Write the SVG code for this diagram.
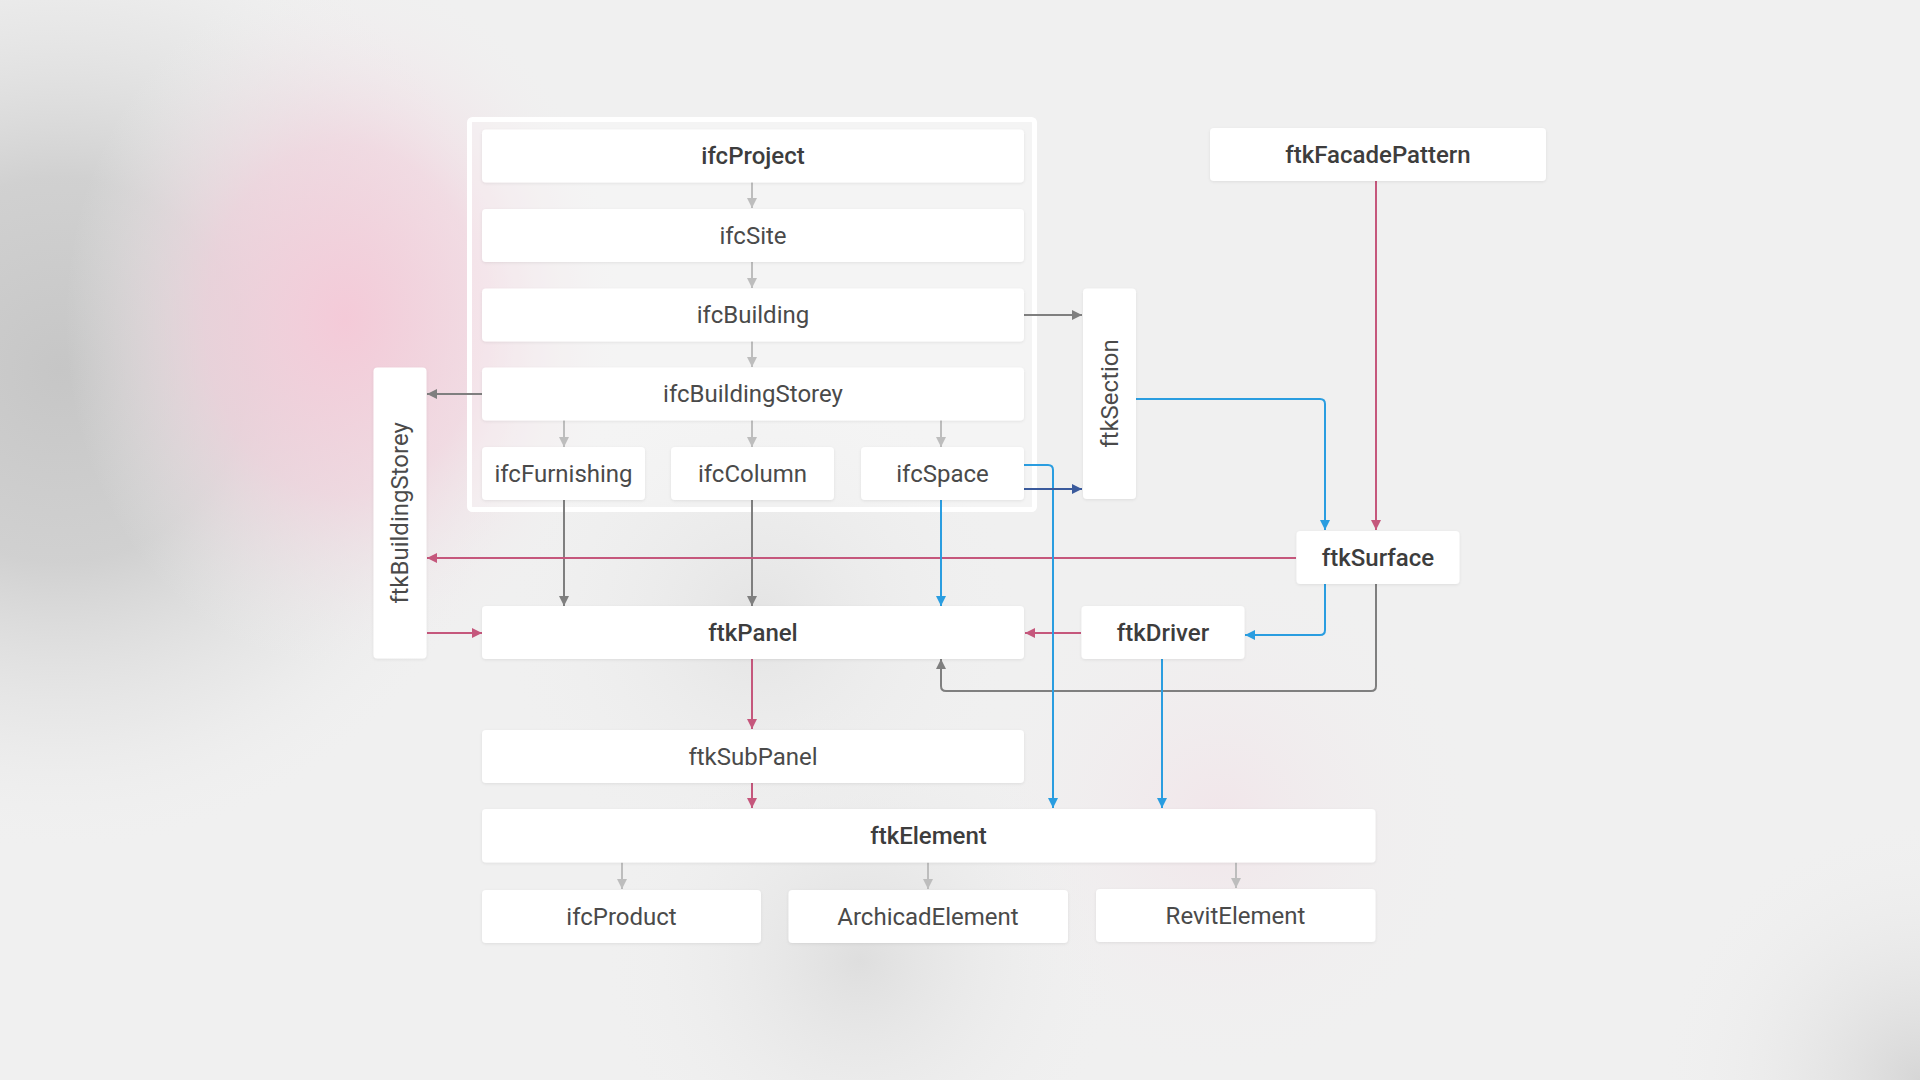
<svg xmlns="http://www.w3.org/2000/svg" width="1920" height="1080" viewBox="0 0 1920 1080">
<defs>
<radialGradient id="gGrayL" cx="0" cy="0" r="1" gradientUnits="userSpaceOnUse" gradientTransform="translate(60,370) scale(470,480)">
<stop offset="0" stop-color="#c6c6c6" stop-opacity="1"/>
<stop offset="0.4" stop-color="#cbcbcb" stop-opacity="0.85"/>
<stop offset="0.75" stop-color="#dedede" stop-opacity="0.4"/>
<stop offset="1" stop-color="#efefef" stop-opacity="0"/>
</radialGradient>
<radialGradient id="gPink" cx="0" cy="0" r="1" gradientUnits="userSpaceOnUse" gradientTransform="translate(345,320) scale(280,350)">
<stop offset="0" stop-color="#f4cad8" stop-opacity="1"/>
<stop offset="0.5" stop-color="#f2d3de" stop-opacity="0.7"/>
<stop offset="1" stop-color="#f0f0f0" stop-opacity="0"/>
</radialGradient>
<radialGradient id="gPink2" cx="1220" cy="820" r="260" gradientUnits="userSpaceOnUse">
<stop offset="0" stop-color="#f2e1e7" stop-opacity="0.7"/>
<stop offset="1" stop-color="#f0f0f0" stop-opacity="0"/>
</radialGradient>
<radialGradient id="gGray2" cx="860" cy="960" r="260" gradientUnits="userSpaceOnUse">
<stop offset="0" stop-color="#dcdcdc" stop-opacity="0.9"/>
<stop offset="1" stop-color="#f0f0f0" stop-opacity="0"/>
</radialGradient>
<radialGradient id="gGray3" cx="1920" cy="1080" r="260" gradientUnits="userSpaceOnUse">
<stop offset="0" stop-color="#d6d6d6" stop-opacity="1"/>
<stop offset="1" stop-color="#f0f0f0" stop-opacity="0"/>
</radialGradient>
<radialGradient id="gGray4" cx="760" cy="620" r="260" gradientUnits="userSpaceOnUse">
<stop offset="0" stop-color="#e2e2e2" stop-opacity="0.9"/>
<stop offset="1" stop-color="#f0f0f0" stop-opacity="0"/>
</radialGradient>
<filter id="sh" x="-10%" y="-20%" width="120%" height="150%">
<feDropShadow dx="0" dy="1" stdDeviation="1.5" flood-color="#000" flood-opacity="0.08"/>
</filter>
<marker id="aLight" viewBox="0 0 10 10" refX="10" refY="5" markerWidth="10" markerHeight="11" markerUnits="userSpaceOnUse" orient="auto"><path d="M0,0 L10,5 L0,10 z" fill="#bdbdbd"/></marker>
<marker id="aGray" viewBox="0 0 10 10" refX="10" refY="5" markerWidth="10" markerHeight="12" markerUnits="userSpaceOnUse" orient="auto"><path d="M0,0 L10,5 L0,10 z" fill="#7f7f7f"/></marker>
<marker id="aPink" viewBox="0 0 10 10" refX="10" refY="5" markerWidth="10" markerHeight="12" markerUnits="userSpaceOnUse" orient="auto"><path d="M0,0 L10,5 L0,10 z" fill="#c5577c"/></marker>
<marker id="aBlue" viewBox="0 0 10 10" refX="10" refY="5" markerWidth="10" markerHeight="12" markerUnits="userSpaceOnUse" orient="auto"><path d="M0,0 L10,5 L0,10 z" fill="#2a9de0"/></marker>
<marker id="aNavy" viewBox="0 0 10 10" refX="10" refY="5" markerWidth="10" markerHeight="12" markerUnits="userSpaceOnUse" orient="auto"><path d="M0,0 L10,5 L0,10 z" fill="#3a5a9c"/></marker>
</defs>
<style>
.box{fill:#ffffff;filter:url(#sh);}
.t{font-family:Roboto,"Liberation Sans",sans-serif;font-size:24px;fill:#4a4a4a;text-anchor:middle;dominant-baseline:central;}
.b{font-weight:500;fill:#3d3d3d;}
.c{fill:none;stroke-width:2;}
.light{stroke:#bdbdbd;marker-end:url(#aLight);}
.gray{stroke:#7f7f7f;marker-end:url(#aGray);}
.pink{stroke:#c5577c;marker-end:url(#aPink);}
.blue{stroke:#2a9de0;marker-end:url(#aBlue);}
.navy{stroke:#3a5a9c;marker-end:url(#aNavy);}
</style>
<rect width="1920" height="1080" fill="#f0f0f0"/>
<rect width="1920" height="1080" fill="url(#gGrayL)"/>
<rect width="1920" height="1080" fill="url(#gPink)"/>
<rect width="1920" height="1080" fill="url(#gGray4)"/>
<rect width="1920" height="1080" fill="url(#gGray2)"/>
<rect width="1920" height="1080" fill="url(#gPink2)"/>
<rect width="1920" height="1080" fill="url(#gGray3)"/>

<g id="ifcContainer">
<rect x="469.5" y="119.5" width="565" height="390" rx="3" fill="#ffffff" fill-opacity="0.25" stroke="#ffffff" stroke-width="5"/>
</g>

<g id="connectors">
<path class="c light" d="M752,182 V208"/>
<path class="c light" d="M752,261.5 V288"/>
<path class="c light" d="M752,341 V367"/>
<path class="c light" d="M564,420 V447"/>
<path class="c light" d="M752,420 V447"/>
<path class="c light" d="M941,420 V447"/>
<path class="c light" d="M622,862.5 V889"/>
<path class="c light" d="M928,862.5 V889"/>
<path class="c light" d="M1236,862.5 V888"/>

<path class="c gray" d="M1024,315 H1082"/>
<path class="c gray" d="M482,394 H427"/>
<path class="c gray" d="M564,500 V606"/>
<path class="c gray" d="M752,500 V606"/>
<path class="c gray" d="M1376,584 V686 Q1376,691 1371,691 H946 Q941,691 941,686 V659"/>

<path class="c pink" d="M1376,181 V530"/>
<path class="c pink" d="M1296,558 H427"/>
<path class="c pink" d="M427,633 H482"/>
<path class="c pink" d="M1081,633 H1025"/>
<path class="c pink" d="M752,659 V729"/>
<path class="c pink" d="M752,783 V808"/>

<path class="c blue" d="M1136,399 H1320 Q1325,399 1325,404 V530"/>
<path class="c blue" d="M941,500 V606"/>
<path class="c blue" d="M1024,465 H1048 Q1053,465 1053,470 V808"/>
<path class="c blue" d="M1325,584 V630 Q1325,635 1320,635 H1245"/>
<path class="c blue" d="M1162,659 V808"/>

<path class="c navy" d="M1024,489 H1082"/>
</g>

<g id="ifcProject"><rect class="box" x="482" y="129.5" width="542" height="53" rx="4"/><text class="t b" x="753" y="156">ifcProject</text></g>
<g id="ifcSite"><rect class="box" x="482" y="209" width="542" height="53" rx="4"/><text class="t" x="753" y="235.5">ifcSite</text></g>
<g id="ifcBuilding"><rect class="box" x="482" y="288.5" width="542" height="53" rx="4"/><text class="t" x="753" y="315">ifcBuilding</text></g>
<g id="ifcBuildingStorey"><rect class="box" x="482" y="367.5" width="542" height="53" rx="4"/><text class="t" x="753" y="394">ifcBuildingStorey</text></g>
<g id="ifcFurnishing"><rect class="box" x="482" y="447" width="163" height="53" rx="4"/><text class="t" x="563.5" y="473.5">ifcFurnishing</text></g>
<g id="ifcColumn"><rect class="box" x="671" y="447" width="163" height="53" rx="4"/><text class="t" x="752.5" y="473.5">ifcColumn</text></g>
<g id="ifcSpace"><rect class="box" x="861" y="447" width="163" height="53" rx="4"/><text class="t" x="942.5" y="473.5">ifcSpace</text></g>

<g id="ftkSection"><rect class="box" x="1083" y="288.5" width="53" height="210.5" rx="4"/><text class="t" transform="translate(1109.5,393.5) rotate(-90)" x="0" y="0">ftkSection</text></g>
<g id="ftkBuildingStorey"><rect class="box" x="373.5" y="367.5" width="53" height="291" rx="4"/><text class="t" transform="translate(400,513) rotate(-90)" x="0" y="0">ftkBuildingStorey</text></g>
<g id="ftkFacadePattern"><rect class="box" x="1210" y="128" width="336" height="53" rx="4"/><text class="t b" x="1378" y="154.5">ftkFacadePattern</text></g>
<g id="ftkSurface"><rect class="box" x="1296.5" y="531" width="163" height="53" rx="4"/><text class="t b" x="1378" y="557.5">ftkSurface</text></g>
<g id="ftkPanel"><rect class="box" x="482" y="606" width="542" height="53" rx="4"/><text class="t b" x="753" y="632.5">ftkPanel</text></g>
<g id="ftkDriver"><rect class="box" x="1081.5" y="606" width="163" height="53" rx="4"/><text class="t b" x="1163" y="632.5">ftkDriver</text></g>
<g id="ftkSubPanel"><rect class="box" x="482" y="730" width="542" height="53" rx="4"/><text class="t" x="753" y="756.5">ftkSubPanel</text></g>
<g id="ftkElement"><rect class="box" x="482" y="809" width="893.5" height="53.5" rx="4"/><text class="t b" x="928.5" y="836">ftkElement</text></g>
<g id="ifcProduct"><rect class="box" x="482" y="890" width="279" height="53" rx="4"/><text class="t" x="621.5" y="916.5">ifcProduct</text></g>
<g id="ArchicadElement"><rect class="box" x="788.5" y="890" width="279.5" height="53" rx="4"/><text class="t" x="928" y="916.5">ArchicadElement</text></g>
<g id="RevitElement"><rect class="box" x="1096" y="889" width="279.5" height="53" rx="4"/><text class="t" x="1235.5" y="915.5">RevitElement</text></g>
</svg>
